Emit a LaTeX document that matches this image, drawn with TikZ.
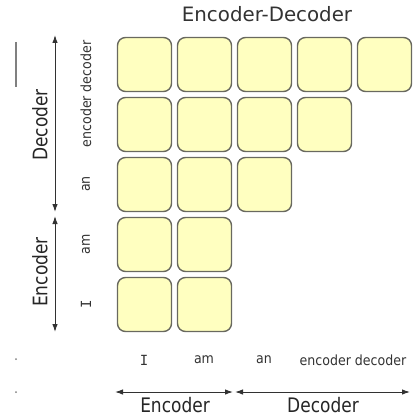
\documentclass[tikz,border=0pt]{standalone}
\usepackage{fontspec}
\setmainfont{DejaVu Sans}
\newfontfamily\tagfont{DejaVu Sans}[FakeStretch=0.9]
\newfontfamily\axisfont{DejaVu Sans}[FakeStretch=0.85]
\newfontfamily\monofont{DejaVu Sans Mono}
\usetikzlibrary{arrows.meta}
\definecolor{cellfill}{RGB}{255,255,192}
\definecolor{celledge}{RGB}{105,105,95}
\definecolor{axisgray}{RGB}{50,50,50}

\begin{document}
\begin{tikzpicture}[
      x=1pt, y=-1pt,
      cell/.style={draw=celledge, fill=cellfill, line width=1.4pt, rounded corners=8pt,
                   minimum size=54pt, inner sep=0pt},
      tag/.style={font=\tagfont\fontsize{14}{16}\selectfont, text=black!80, inner sep=0pt},
      axis/.style={font=\axisfont\fontsize{20}{22}\selectfont, text=black!85, inner sep=0pt},
      span/.style={{Latex[length=8pt,width=5.5pt]}-{Latex[length=8pt,width=5.5pt]}, axisgray, line width=1pt}
    ]
      \useasboundingbox (0,0) rectangle (414,417);

      \node[font=\fontsize{19.8}{22}\selectfont, text=black!80, inner sep=0pt] (title) at (267,14) {Encoder-Decoder};

      % triangular grid of cells, row r holds n cells
      \foreach \r/\n in {1/5,2/4,3/3,4/2,5/2}
        \foreach \c in {1,...,\n}
          \node[cell] (c\r\c) at ({84.5+60*\c},{4.5+60*\r}) {};

      % row tags
      \node[tag, rotate=90] (t-ed) at (86,94) {encoder decoder};
      \node[tag, rotate=90] (t-an) at (86,184) {an};
      \node[tag, rotate=90] (t-am) at (86,244) {am};
      \node[tag, rotate=90] (t-i)  at (86,304) {\monofont I};

      % column tags
      \node[tag] (b-i)  at (144,360) {\monofont I};
      \node[tag] (b-am) at (204,360) {am};
      \node[tag] (b-an) at (264,360) {an};
      \node[tag] (b-ed) at (353,360) {encoder decoder};

      % vertical spans
      \coordinate (dec-top) at (55,35);
      \coordinate (dec-bot) at (55,212);
      \coordinate (enc-top) at (55,216);
      \coordinate (enc-bot) at (55,332);
      \draw[span] (dec-bot) -- (dec-top);
      \draw[span] (enc-bot) -- (enc-top);
      \node[axis, rotate=90] (l-dec) at (40,125) {Decoder};
      \node[axis, rotate=90] (l-enc) at (40,272) {Encoder};

      % horizontal spans
      \coordinate (enc-left) at (115,392);
      \coordinate (enc-right) at (233,392);
      \coordinate (dec-left) at (235,392);
      \coordinate (dec-right) at (410,392);
      \draw[span] (enc-left) -- (enc-right);
      \draw[span] (dec-left) -- (dec-right);
      \node[axis] (h-enc) at (175,405) {Encoder};
      \node[axis] (h-dec) at (323,405) {Decoder};

      % stray marks on the left margin
      \draw[gray, line width=1.2pt] (16,42) -- (16,87);
      \fill[gray] (16,359) circle (1pt);
      \fill[gray] (16,392) circle (1pt);
    \end{tikzpicture}
\end{document}
